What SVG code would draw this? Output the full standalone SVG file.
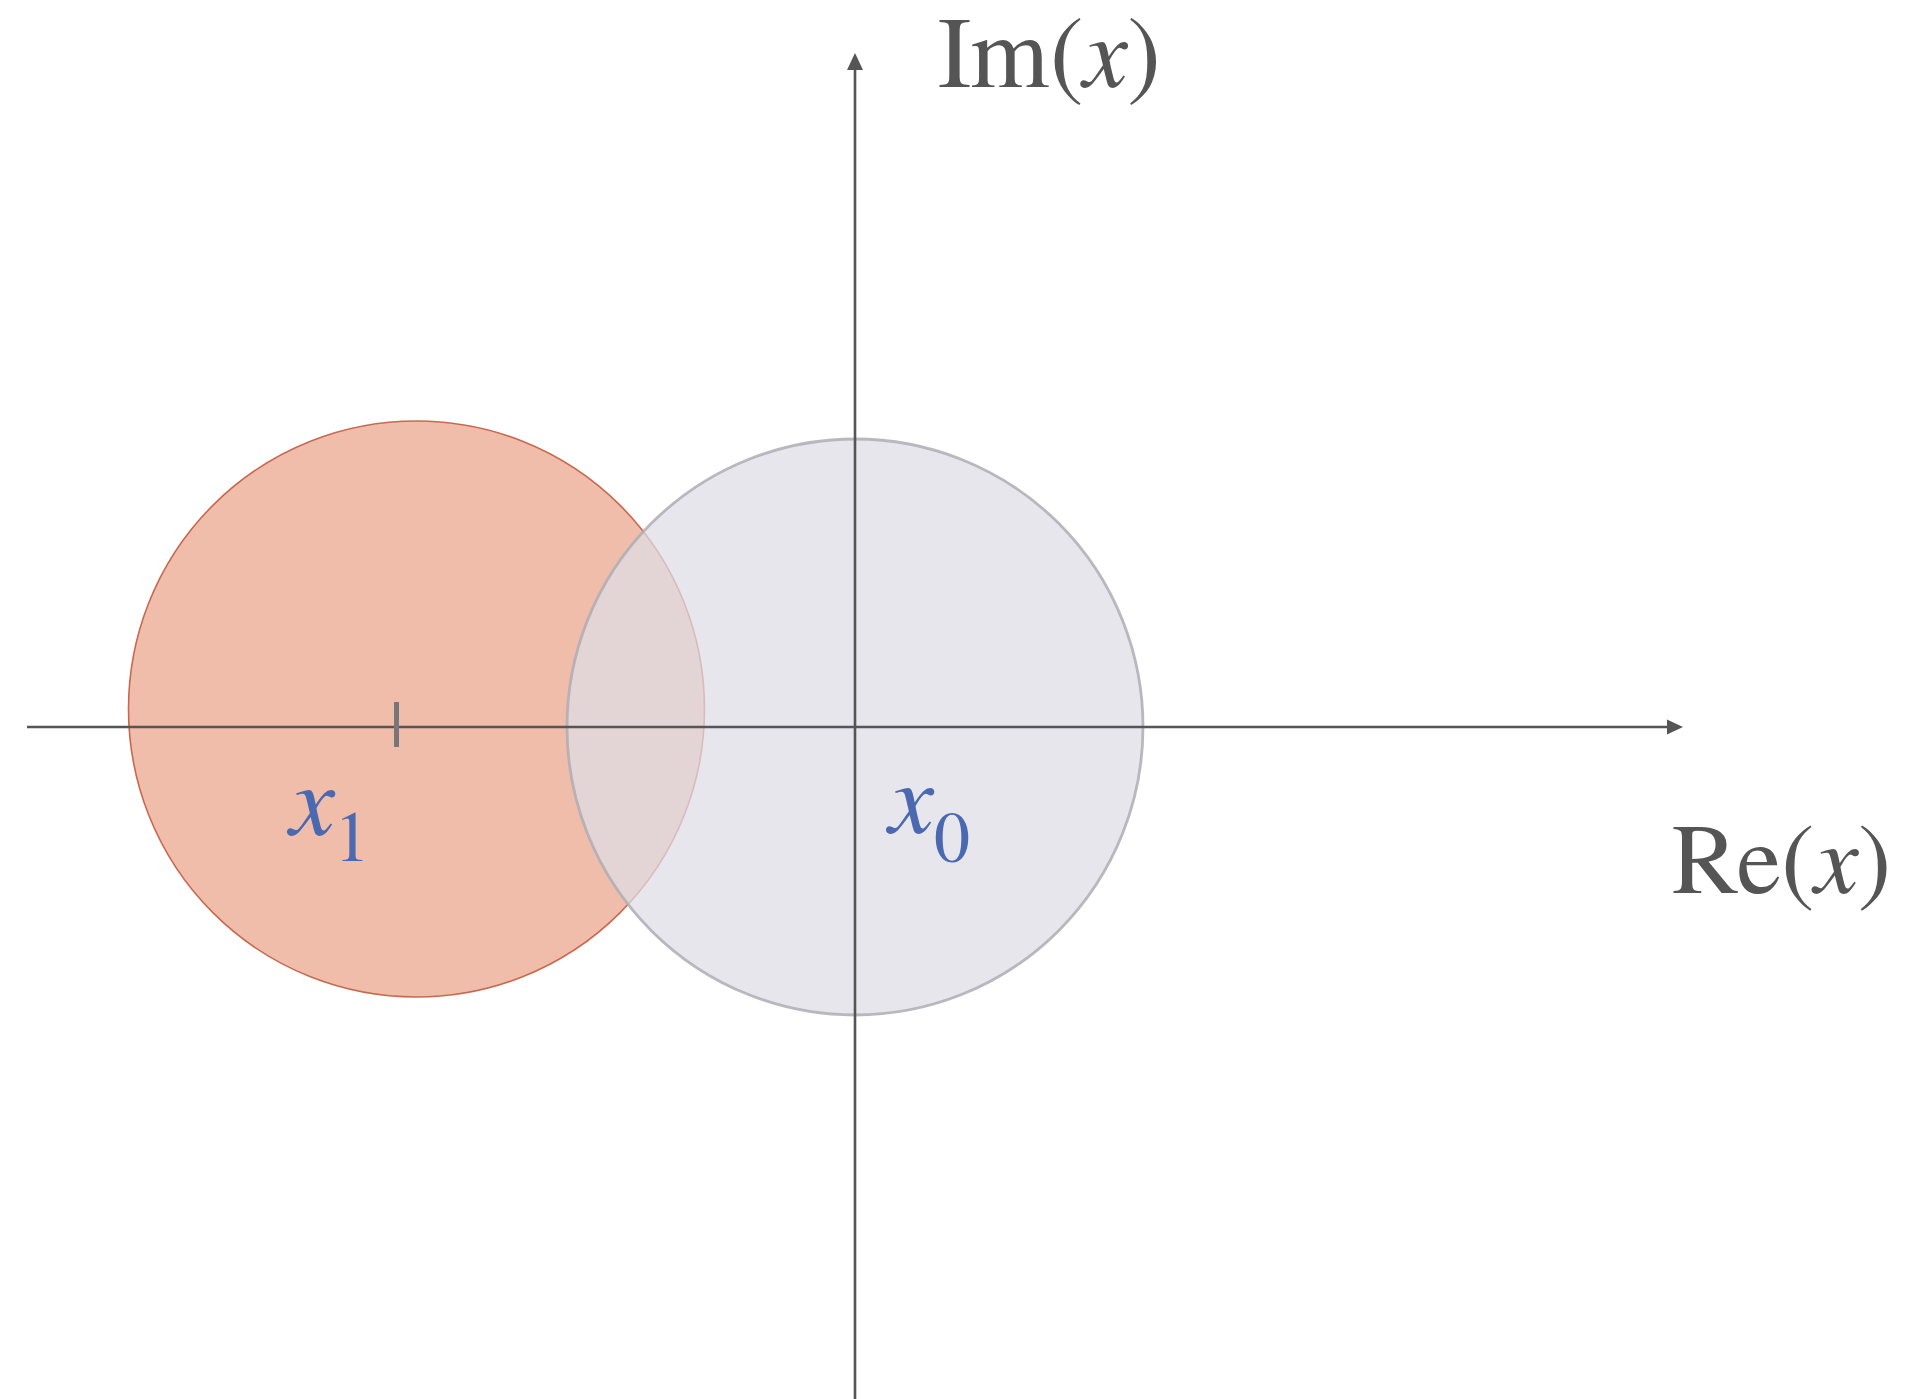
<svg xmlns="http://www.w3.org/2000/svg" width="1911" height="1399" viewBox="0 0 1911 1399">
<style>
.axis{stroke:#555;stroke-width:2.6;fill:none}
.head{fill:#555}
</style>
<rect width="1911" height="1399" fill="#fff"/>
<g id="disk-x1">
<circle cx="416.5" cy="709" r="288" fill="#f1bdab" stroke="#c8694f" stroke-width="1.6"/>
</g>
<g id="disk-x0">
<circle cx="855" cy="727" r="288" fill="#dedde4" fill-opacity="0.72" stroke="#aeadb4" stroke-width="2.8" stroke-opacity="0.85"/>
</g>
<g id="connectors">
<line class="axis" x1="27" y1="727" x2="1670" y2="727"/>
<polygon class="head" points="1683,727 1667,719.5 1667,734.5"/>
<line class="axis" x1="855" y1="1399" x2="855" y2="66"/>
<polygon class="head" points="855,53 847,70 863,70"/>
<line x1="396.5" y1="702" x2="396.5" y2="747" stroke="#777" stroke-width="5"/>
</g>
<g id="label-im">
<text x="938" y="87" font-family="'Nimbus Roman', FreeSerif, serif" font-size="101" fill="#555">Im(<tspan font-style="italic">x</tspan>)</text>
</g>
<g id="label-re">
<text x="1672" y="893" font-family="'Nimbus Roman', FreeSerif, serif" font-size="100" fill="#555">Re(<tspan font-style="italic">x</tspan>)</text>
</g>
<g id="label-x1">
<text x="290" y="835" font-family="'Nimbus Roman', FreeSerif, serif" font-size="102" font-style="italic" fill="#4a69b1">x</text>
<text x="334" y="861" font-family="'Nimbus Roman', FreeSerif, serif" font-size="72" fill="#4a69b1">1</text>
</g>
<g id="label-x0">
<text x="889" y="833" font-family="'Nimbus Roman', FreeSerif, serif" font-size="102" font-style="italic" fill="#4a69b1">x</text>
<text x="934" y="862" font-family="'Nimbus Roman', FreeSerif, serif" font-size="72" fill="#4a69b1">0</text>
</g>
</svg>
